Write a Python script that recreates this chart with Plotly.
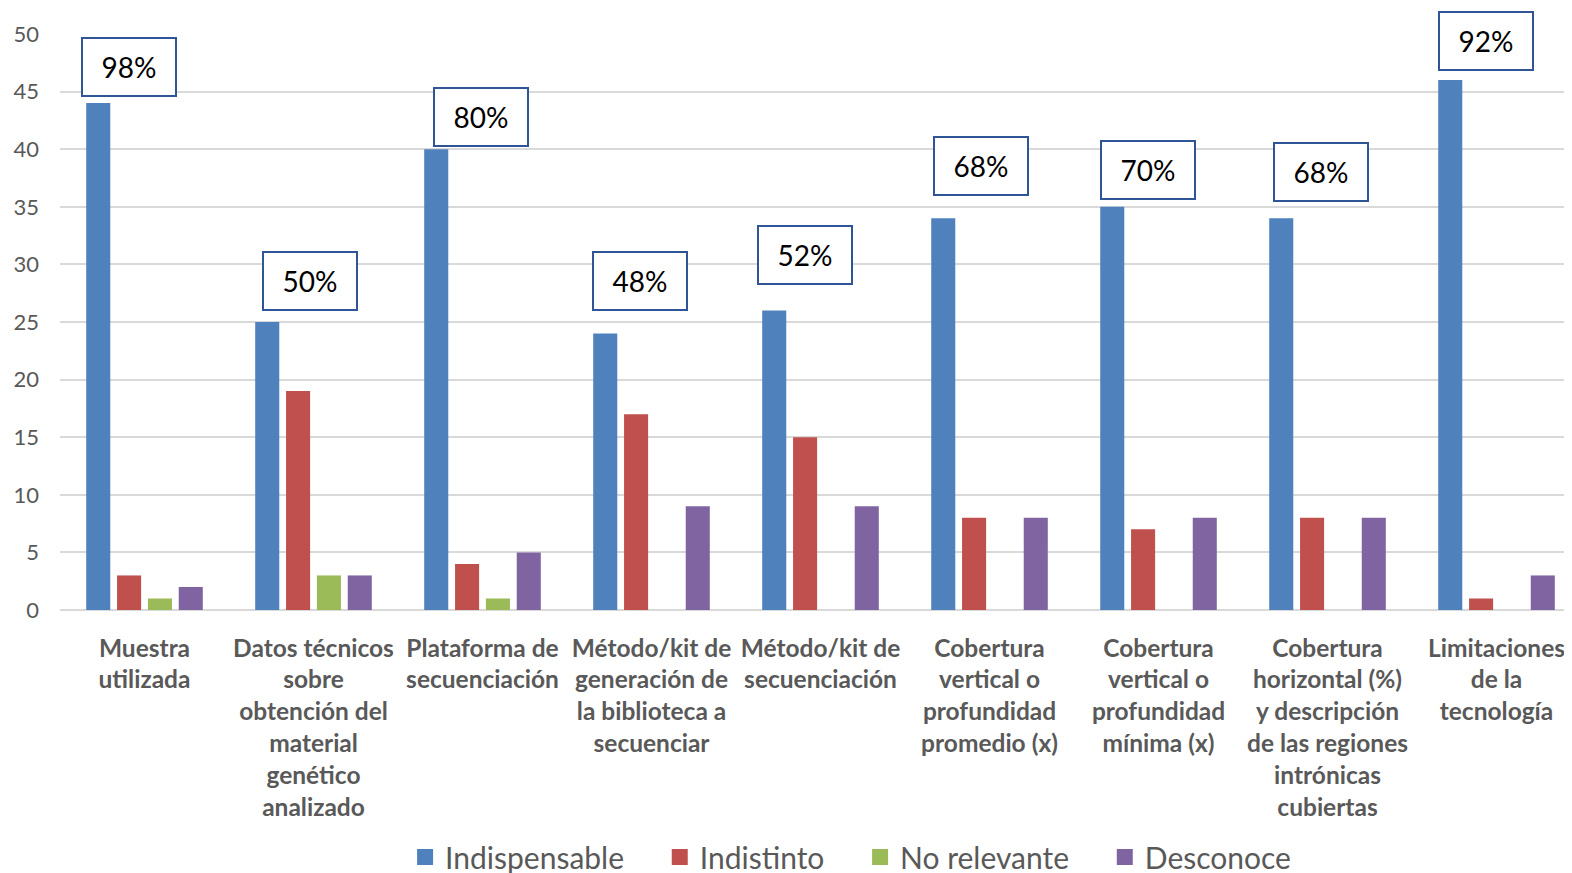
import plotly.graph_objects as go

categories = [
    "Muestra<br>utilizada",
    "Datos técnicos<br>sobre<br>obtención del<br>material<br>genético<br>analizado",
    "Plataforma de<br>secuenciación",
    "Método/kit de<br>generación de<br>la biblioteca a<br>secuenciar",
    "Método/kit de<br>secuenciación",
    "Cobertura<br>vertical o<br>profundidad<br>promedio (x)",
    "Cobertura<br>vertical o<br>profundidad<br>mínima (x)",
    "Cobertura<br>horizontal (%)<br>y descripción<br>de las regiones<br>intrónicas<br>cubiertas",
    "Limitaciones<br>de la<br>tecnología",
]
indispensable = [44, 25, 40, 24, 26, 34, 35, 34, 46]
indistinto = [3, 19, 4, 17, 15, 8, 7, 8, 1]
no_relevante = [1, 3, 1, 0, 0, 0, 0, 0, 0]
desconoce = [2, 3, 5, 9, 9, 8, 8, 8, 3]
pct_labels = ["98%", "50%", "80%", "48%", "52%", "68%", "70%", "68%", "92%"]
# label box anchor (category offset, value on y axis)
label_dx = [-0.09, -0.02, -0.01, -0.07, -0.09, -0.05, -0.06, -0.04, -0.06]
label_y = [47.1, 28.6, 42.8, 28.6, 30.8, 38.5, 38.2, 38.0, 49.4]

series_names = ["Indispensable", "Indistinto", "No relevante", "Desconoce"]
series_values = [indispensable, indistinto, no_relevante, desconoce]
series_colors = ["#4F81BD", "#C0504D", "#9BBB59", "#8064A2"]

FONT = "Lato"
GRAY = "#595959"
PAD = "\u00a0" * 4

fig = go.Figure()
for name, vals, color in zip(series_names, series_values, series_colors):
    fig.add_trace(go.Bar(x=categories, y=vals, name=name, showlegend=False,
                         marker=dict(color=color, line=dict(width=0))))
# legend entries with larger square keys
for k, (name, color) in enumerate(zip(series_names, series_colors)):
    label = name + (PAD if k < len(series_names) - 1 else "")
    fig.add_trace(go.Scatter(x=[None], y=[None], mode="markers", name=label,
                             marker=dict(symbol="square", size=16, color=color)))

for i, txt in enumerate(pct_labels):
    fig.add_annotation(
        x=i + label_dx[i], y=label_y[i], xref="x", yref="y", text=txt, showarrow=False,
        font=dict(family=FONT, size=28, color="#000000"),
        bgcolor="#FFFFFF", bordercolor="#2F5597", borderwidth=2, borderpad=0,
        width=92, height=56, xanchor="center", yanchor="middle",
    )

fig.update_layout(
    width=1572, height=873,
    margin=dict(l=52, r=0, t=26, b=271, autoexpand=False),
    paper_bgcolor="white", plot_bgcolor="white",
    barmode="group", bargap=0.27, bargroupgap=0.22,
    font=dict(family=FONT, color=GRAY),
    showlegend=True,
    legend=dict(
        orientation="h", x=0.536, xanchor="center", xref="container",
        y=0.0275, yanchor="middle", yref="container",
        font=dict(family=FONT, size=30, color=GRAY), itemwidth=30, traceorder="normal",
    ),
)
fig.update_xaxes(
    type="category", range=[-0.5, 8.494], showgrid=False, showline=False, zeroline=False,
    tickfont=dict(family=FONT, size=24.5, color=GRAY, weight="bold"), ticklabelstandoff=21,
    ticks="", automargin=False,
)
fig.update_yaxes(
    range=[0, 50], dtick=5, showgrid=True, gridcolor="#D9D9D9", gridwidth=2,
    zeroline=True, zerolinecolor="#D9D9D9", zerolinewidth=2, showline=False,
    tickfont=dict(family=FONT, size=22, color=GRAY), ticklabelstandoff=20, automargin=False,
)

fig.write_html("out.html")
